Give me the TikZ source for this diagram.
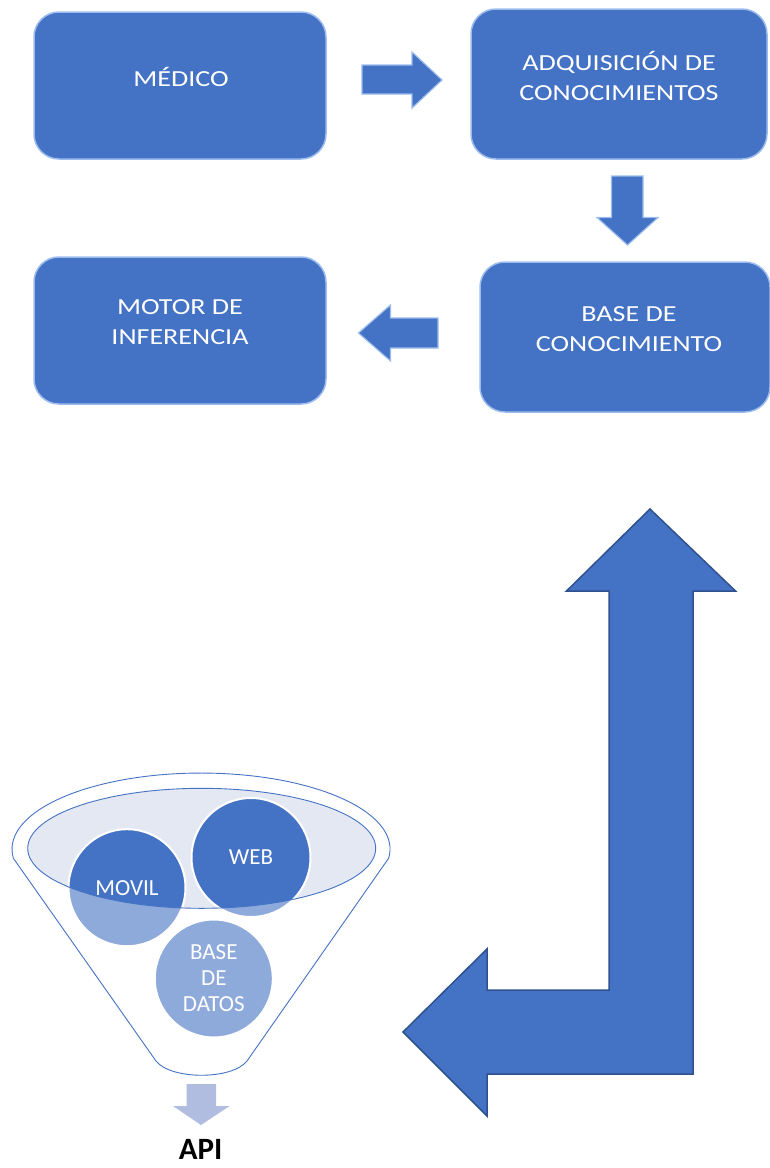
\documentclass[tikz,border=0pt]{standalone}
\usepackage{fontspec}
\setmainfont{Carlito}
\newfontfamily\boxfont[FakeStretch=1.22]{Carlito}
\usetikzlibrary{positioning, calc}

\definecolor{blockblue}{HTML}{4472C4}
\definecolor{edgeblue}{HTML}{2F528F}
\definecolor{bevelblue}{HTML}{9CBCEE}
\definecolor{lidgray}{HTML}{E4E8F3}
\definecolor{spoutblue}{HTML}{B0BCE0}

\tikzset{
    stagebox/.style={fill=blockblue, draw=bevelblue, line width=1.5pt, rounded corners=25pt},
    stagetext/.style={text=white, align=center, font=\boxfont\fontsize{23}{30}\selectfont},
    flowarrow/.style={fill=blockblue, draw=bevelblue, line width=1.2pt, line join=miter},
    funnelline/.style={draw=blockblue, line width=0.9pt},
    cupcircle/.style={fill=blockblue, draw=white, line width=2pt},
    cuptext/.style={text=white, align=center, font=\fontsize{23}{26}\selectfont}
}

\begin{document}
\begin{tikzpicture}[x=1pt, y=-1pt]

    % Page frame
    \useasboundingbox (0,0) rectangle (770,1168);

    % Stage boxes
    \draw[stagebox] (34,12) rectangle (326,159);
    \node[stagetext] (medico) at (181,77) {MÉDICO};
    \draw[stagebox] (471,9) rectangle (767,159);
    \node[stagetext] (adquisicion) at (619,76) {ADQUISICIÓN DE\\CONOCIMIENTOS};
    \draw[stagebox] (480,262) rectangle (770,412);
    \node[stagetext] (base) at (629,329) {BASE DE\\CONOCIMIENTO};
    \draw[stagebox] (34,257) rectangle (326,404);
    \node[stagetext] (motor) at (180,322) {MOTOR DE\\INFERENCIA};

    % Small block arrows between the boxes
    \draw[flowarrow] (362,65) -- (412,65) -- (412,52) -- (442,80)
        -- (412,108) -- (412,94) -- (362,94) -- cycle;
    \draw[flowarrow] (611.5,176) -- (643,176) -- (643,217.5) -- (658,217.5)
        -- (627.5,245) -- (597,217.5) -- (611.5,217.5) -- cycle;
    \draw[flowarrow] (438,318) -- (390.5,318) -- (390.5,305) -- (358.5,333)
        -- (390.5,361) -- (390.5,348) -- (438,348) -- cycle;

    % Bent double arrow
    \draw[fill=blockblue, draw=edgeblue, line width=1.5pt]
        (650,509) -- (735.5,591) -- (693,591) -- (693,1074) -- (487,1074)
        -- (487,1116) -- (403,1032) -- (487,949) -- (487,990) -- (609,990)
        -- (609,591) -- (566.5,591) -- cycle;

    % Funnel lid
    \fill[lidgray] (201.7,848.3) ellipse[x radius=174, y radius=60];

    % Circles in the funnel
    \draw[cupcircle] (127,887.7) circle (58.5);
    \draw[cupcircle] (251,857.5) circle (59.5);
    \draw[cupcircle] (213.8,978.5) circle (59);

    % Pale veil over the funnel body
    \fill[white, opacity=0.4, even odd rule]
        (388.6,858.3) arc[start angle=7, end angle=-187, x radius=189, y radius=76]
        -- (156,1061) .. controls (171,1080) and (232,1080) .. (247,1061) -- cycle
        (201.7,848.3) ellipse[x radius=174, y radius=60];

    % Funnel outline
    \draw[funnelline] (201.7,848.3) ellipse[x radius=174, y radius=60];
    \draw[funnelline]
        (388.6,858.3) arc[start angle=7, end angle=-187, x radius=189, y radius=76]
        -- (156,1061) .. controls (171,1080) and (232,1080) .. (247,1061) -- cycle;

    % Circle labels
    \node[cuptext] (movil) at (127,887.7) {MOVIL};
    \node[cuptext] (web) at (251,857.5) {WEB};
    \node[cuptext] (datos) at (213.8,978.5) {BASE\\DE\\DATOS};

    % Spout arrow and output
    \fill[spoutblue] (186.5,1084) -- (216,1084) -- (216,1106) -- (229.6,1106)
        -- (201,1125) -- (173,1106) -- (186.5,1106) -- cycle;
    \node[anchor=base, inner sep=0pt, font=\bfseries\fontsize{31}{36}\selectfont] (api) at (200.7,1159) {API};

\end{tikzpicture}
\end{document}
